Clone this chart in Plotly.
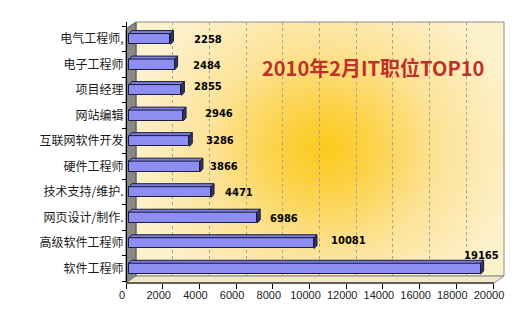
import base64
import plotly.graph_objects as go

# ---------------- data ----------------
categories = ["软件工程师", "高级软件工程师", "网页设计/制作.", "技术支持/维护.", "硬件工程师",
              "互联网软件开发", "网站编辑", "项目经理", "电子工程师", "电气工程师,"]
values = [19165, 10081, 6986, 4471, 3866, 3286, 2946, 2855, 2484, 2258]
x_ticks = list(range(0, 20001, 2000))
x_tick_text = [str(v) for v in x_ticks]
title_text = "2010年2月IT职位TOP10"

# label placement styles (pixels)
label_dx = [-19, 15, 11, 12, 8, 15, 20, 11, 16, 22]
label_dy = [13, 3, -1, 0, 0, 0, 2, 3, -1, -1]

# ---------------- geometry (pixels) ----------------
L, R, T, B = 120, 504, 22, 285
W, H = R - L, B - T
k = 0.01835            # px per value unit
s = 25.72              # px per category
c0 = 270.5             # px of first category centre


def xr(z):
    return [(L - z) / k, (R - z) / k]


yr = [-(B - c0) / s, (c0 - T) / s]


def px(p):
    return (p - L) / W


def py(p):
    return (B - p) / H


ypos = list(range(len(categories)))
h = 0.21
dxd = 3 / k
dyd = 3 / s

# 3D faces of the bars
tx, ty, ex, ey = [], [], [], []
for v, c in zip(values, ypos):
    tx += [0, v, v + dxd, dxd, 0, None]
    ty += [c + h, c + h, c + h + dyd, c + h + dyd, c + h, None]
    ex += [v, v, v + dxd, v + dxd, v, None]
    ey += [c - h, c + h, c + h + dyd, c - h + dyd, c - h, None]

fig = go.Figure()
fig.add_trace(go.Scatter(x=tx, y=ty, xaxis="x2", yaxis="y", mode="lines", fill="toself",
                         fillcolor="#7c7cda", line=dict(color="#1c1c40", width=1),
                         hoverinfo="skip", showlegend=False))
fig.add_trace(go.Scatter(x=ex, y=ey, xaxis="x2", yaxis="y", mode="lines", fill="toself",
                         fillcolor="#34345c", line=dict(color="#1c1c40", width=1),
                         hoverinfo="skip", showlegend=False))
fig.add_trace(go.Bar(x=values, y=ypos, orientation="h", xaxis="x2", yaxis="y", width=0.42,
                     marker=dict(color="#8e8ef2", line=dict(color="#1c1c40", width=1)),
                     showlegend=False, hoverinfo="skip"))
for ax in ["x3", "x4", "x"]:
    fig.add_trace(go.Scatter(x=[None], y=[None], xaxis=ax, yaxis="y", showlegend=False))

# value labels
for v, c, dx, dy in zip(values, ypos, label_dx, label_dy):
    fig.add_annotation(x=v, y=c, xref="x2", yref="y", text=f"{v}", showarrow=False,
                       xanchor="left", yanchor="middle", xshift=dx, yshift=dy,
                       font=dict(family="DejaVu Sans", size=10, color="#000", weight="bold"))

fig.add_annotation(x=px(373), y=py(68), xref="paper", yref="paper", text=title_text,
                   showarrow=False, xanchor="center", yanchor="middle",
                   font=dict(family="Noto Sans CJK SC", size=20, color="#c0302a", weight="bold"))

# background glow (back plane)
bw, bh = 368, 256
svg = f'''<svg xmlns="http://www.w3.org/2000/svg" width="{bw}" height="{bh}" viewBox="0 0 {bw} {bh}">
<defs><radialGradient id="g" gradientUnits="userSpaceOnUse" cx="188" cy="128" r="175"
gradientTransform="translate(188 128) scale(1.1 1) translate(-188 -128)">
<stop offset="0" stop-color="#fbca1c"/>
<stop offset="0.22" stop-color="#fcd142"/>
<stop offset="0.6" stop-color="#fde398"/>
<stop offset="1" stop-color="#fdf1cb"/>
</radialGradient></defs>
<rect width="{bw}" height="{bh}" fill="#fdf1cb"/>
<rect width="{bw}" height="{bh}" fill="url(#g)"/>
</svg>'''
src = "data:image/svg+xml;base64," + base64.b64encode(svg.encode()).decode()
fig.add_layout_image(source=src, xref="paper", yref="paper", x=px(136), y=py(22),
                     sizex=bw / W, sizey=bh / H, sizing="stretch", xanchor="left",
                     yanchor="top", layer="below")

shapes = [
    # back plane border
    dict(type="rect", xref="paper", yref="paper", x0=px(136), x1=px(504), y0=py(278), y1=py(22),
         line=dict(color="#8a8a8a", width=1), fillcolor="rgba(0,0,0,0)", layer="below"),
    # left wall
    dict(type="path", xref="paper", yref="paper",
         path=f"M{px(126)},{py(285)} L{px(126)},{py(29)} L{px(136)},{py(22)} L{px(136)},{py(278)} Z",
         fillcolor="#878787", line=dict(color="#555", width=1), layer="below"),
    # floor
    dict(type="path", xref="paper", yref="paper",
         path=f"M{px(126)},{py(285)} L{px(136)},{py(278)} L{px(504)},{py(278)} L{px(494)},{py(285)} Z",
         fillcolor="#f1e8c8", line=dict(color="#8a8a8a", width=1), layer="above"),
    dict(type="line", xref="paper", yref="paper", x0=px(126), x1=px(494), y0=py(285), y1=py(285),
         line=dict(color="#000", width=1), layer="above"),
]
fig.update_layout(shapes=shapes)

fig.update_layout(
    width=529, height=313,
    margin=dict(l=L, r=529 - R, t=T, b=313 - B, pad=0),
    paper_bgcolor="white", plot_bgcolor="rgba(0,0,0,0)",
    bargap=0,
    xaxis=dict(range=xr(126), tickvals=x_ticks, ticks="outside", ticklen=5, tickcolor="#000",
               showticklabels=False, showgrid=False, zeroline=False, showline=False),
    xaxis2=dict(range=xr(129), overlaying="x", anchor="y", visible=False),
    xaxis3=dict(range=xr(136), overlaying="x", anchor="y", tickvals=x_ticks[1:-1],
                showgrid=True, gridcolor="#aaa394", griddash="3px,3px", gridwidth=1,
                showticklabels=False, ticks="", zeroline=False, showline=False),
    xaxis4=dict(range=xr(122), overlaying="x", anchor="y", tickvals=x_ticks,
                ticktext=x_tick_text, ticks="",
                showgrid=False, zeroline=False, showline=False,
                tickfont=dict(family="Liberation Sans", size=11, color="#222"),
                ticklabelstandoff=4),
    yaxis=dict(range=yr, anchor="free", position=px(126), tickvals=ypos, ticktext=categories,
               ticks="", showgrid=False, zeroline=False, showline=True, linecolor="#000",
               tickfont=dict(family="Noto Sans CJK SC", size=12, color="#1a1a1a"),
               ticklabelstandoff=0,
               minor=dict(tickvals=[i - 0.5 for i in range(len(categories) + 1)], ticks="outside",
                          ticklen=4, tickcolor="#000", showgrid=False)),
)

fig.write_html("out.html")
